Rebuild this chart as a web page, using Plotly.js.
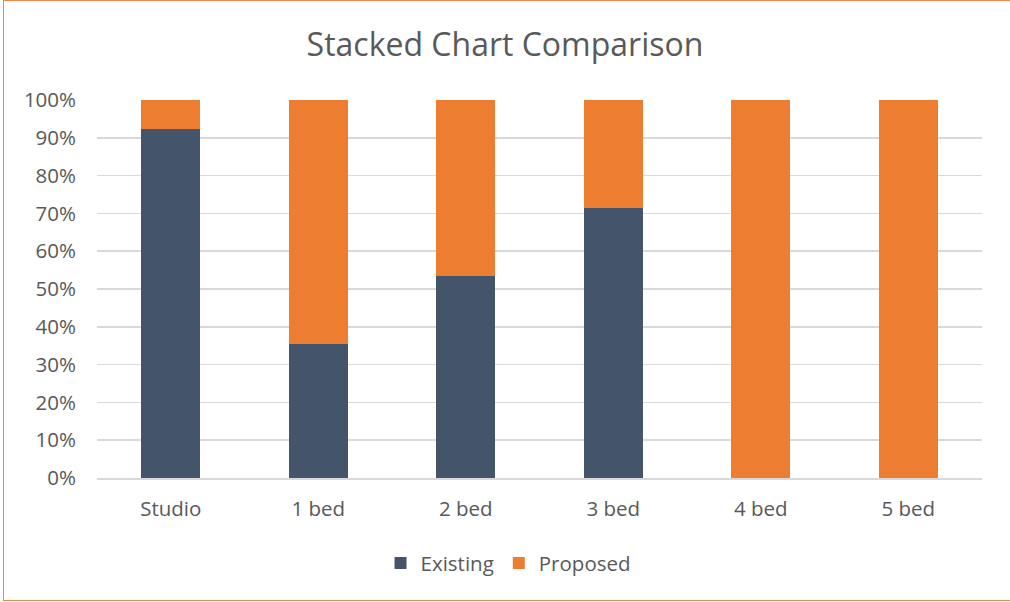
<!DOCTYPE html>
<html>
<head>
<meta charset="utf-8">
<script src="https://cdn.plot.ly/plotly-3.0.1.min.js"></script>
<style>
html,body{margin:0;padding:0;background:#fff;overflow:hidden;}
#wrap{position:relative;width:1010px;height:602px;overflow:hidden;}
#chart{position:absolute;left:0;top:0;width:1010px;height:602px;}
#frame{position:absolute;left:3px;top:0px;width:1020px;height:601px;border:1.5px solid #F0894A;pointer-events:none;box-sizing:border-box;}
</style>
</head>
<body>
<div id="wrap"><div id="chart"></div><div id="frame"></div></div>
<script>
const categories = ["Studio", "1 bed", "2 bed", "3 bed", "4 bed", "5 bed"];
const existing = [92.3, 35.5, 53.4, 71.5, 0, 0];
const proposed = [7.7, 64.5, 46.6, 28.5, 100, 100];
const yTicks = [0, 10, 20, 30, 40, 50, 60, 70, 80, 90, 100];

const font = "Open Sans, Noto Sans, sans-serif";
const data = [
  {type: "bar", name: "Existing", x: categories, y: existing, marker: {color: "#44546A"}, hoverinfo: "x+y+name"},
  {type: "bar", name: "Proposed", x: categories, y: proposed, marker: {color: "#ED7D31"}, hoverinfo: "x+y+name"}
];
const layout = {
  width: 1010, height: 602,
  barmode: "stack", bargap: 0.6,
  paper_bgcolor: "rgba(0,0,0,0)", plot_bgcolor: "#fff",
  margin: {l: 97, r: 28, t: 100, b: 124},
  font: {family: font, color: "#595959", size: 20.5},
  title: {text: "Stacked Chart Comparison", font: {family: font, size: 32, color: "#595959"}, x: 0.5, xanchor: "center", y: 0.925, yanchor: "middle"},
  xaxis: {type: "category", showgrid: false, zeroline: false, showline: true, linecolor: "#D9D9D9", linewidth: 1.5, ticks: "", tickfont: {size: 20.5, color: "#595959"}, ticklabelstandoff: 12},
  yaxis: {range: [0, 100], tickvals: yTicks, ticktext: yTicks.map(v => v + "%"), showgrid: true, gridcolor: "#D9D9D9", gridwidth: 1.5, zeroline: false, ticks: "", tickfont: {size: 20.5, color: "#595959"}, ticklabelstandoff: 20, fixedrange: true},
  showlegend: true,
  legend: {orientation: "h", x: 0.465, xanchor: "center", y: -0.225, yanchor: "middle", font: {size: 20.5, color: "#595959"}, traceorder: "normal", itemwidth: 30}
};
Plotly.newPlot("chart", data, layout, {displayModeBar: false, staticPlot: true});
</script>
</body>
</html>
